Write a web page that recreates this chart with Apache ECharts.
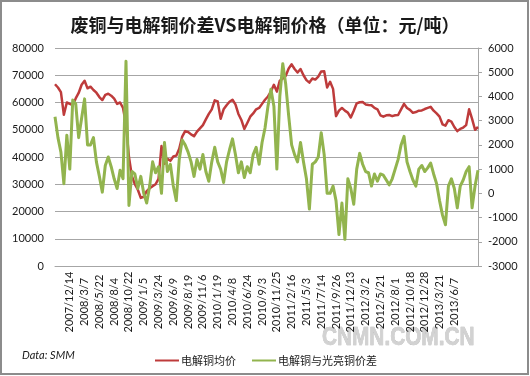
<!DOCTYPE html>
<html>
<head>
<meta charset="utf-8">
<script src="https://cdn.jsdelivr.net/npm/echarts@6/dist/echarts.min.js"></script>
<style>
html,body{margin:0;padding:0;background:#fff;}
#c{width:530px;height:376px;}
</style>
</head>
<body>
<div id="c"></div>
<script>
// Tick labels along the x axis (every 5th point, starting at point 5)
var xLabels = ['2007/12/14','2008/3/7','2008/5/22','2008/8/4','2008/10/22','2009/1/5','2009/3/24','2009/6/9','2009/8/19','2009/11/6','2010/1/19','2010/4/8','2010/6/24','2010/9/3','2010/11/25','2011/2/16','2011/5/3','2011/7/14','2011/9/26','2011/12/13','2012/3/2','2012/5/21','2012/8/1','2012/10/18','2012/12/28','2013/3/21','2013/6/7'];
var labelStart = 5;
var labelStep = 5;

var seriesNames = ['电解铜均价', '电解铜与光亮铜价差'];

// 电解铜均价 (left axis, 元/吨)
var copperPrice = [
66700,65500,63800,55500,60000,59500,59000,61500,63500,66500,
68000,65200,65800,64600,63600,62000,60900,62800,63200,62500,
61400,59500,60000,58000,52000,40000,33000,30000,28000,25000,
25400,27500,28500,29300,30000,32000,44000,37500,39300,38600,
40200,40500,43000,47500,49500,49200,48300,47600,49300,50500,
51700,53800,55800,57500,60800,60400,54000,57500,59000,60300,
61000,59300,55800,53600,50300,52500,54800,56000,57500,58000,
59500,61000,62200,64000,66500,64000,68000,68800,69800,72500,
74000,72300,71000,72300,70000,68200,67300,68800,68400,69500,
71400,71500,65500,67600,65000,55000,57000,58000,57000,56300,
54500,57000,59700,60100,60200,59300,59100,59000,58000,57500,
55300,54800,55300,55400,55000,55300,55400,57500,59500,58000,
57300,56200,56500,57000,57100,57600,58000,58400,57000,56000,
54800,52000,51500,53500,53000,51000,49500,50300,50800,51700,
57500,54000,50000,51000
];

// 电解铜与光亮铜价差 (right axis, 元/吨)
var priceSpread = [
3160,2300,1700,400,2400,1000,3850,3700,2300,3100,
3900,2000,2000,2300,1300,700,50,1150,1500,1100,
600,200,950,600,5450,-500,900,800,200,700,
0,-400,300,1300,850,1100,0,2100,900,1200,
300,-300,1400,2200,2000,1700,1300,700,1400,1000,
1600,900,500,1300,1900,1300,1000,450,1300,1800,
2250,1600,850,1300,650,1100,850,1600,1900,1200,
2100,2700,3600,4300,3600,1000,4000,5350,4500,3200,
2000,1600,1300,2100,1300,600,-650,1200,1300,1500,
2500,1600,0,0,300,-300,-1700,-400,-1900,600,
200,-450,1000,1650,1200,900,850,300,800,500,
800,750,550,350,600,1000,1400,2000,2350,1300,
900,550,300,1000,1150,900,1050,1250,800,400,
-300,-900,-1300,300,600,200,-600,300,550,900,
1100,-600,300,950
];

var axisFont = 'Lato, "Liberation Sans", sans-serif';
var cjkFont = '"Noto Sans CJK SC", sans-serif';

function toPairs(arr){ return arr.map(function(v,i){ return [i, v]; }); }
function plain(v){ return String(v); }

var chart = echarts.init(document.getElementById('c'), null, {renderer:'canvas'});
var option = {
  backgroundColor: '#ffffff',
  animation: false,
  title: {
    text: '废铜与电解铜价差VS电解铜价格（单位：元/吨）',
    left: 'center',
    top: 11,
    textStyle: {fontFamily: cjkFont, fontSize: 18, fontWeight: 'bold', color: '#1a1a1a'}
  },
  legend: {
    left: 150,
    top: 350,
    itemWidth: 24,
    itemHeight: 2,
    itemGap: 16,
    icon: 'rect',
    textStyle: {fontFamily: cjkFont, fontSize: 11, color: '#1a1a1a', padding: [0,0,0,-3]},
    data: seriesNames
  },
  grid: {left: 55, right: 52, top: 48, bottom: 110},
  xAxis: {
    type: 'value',
    min: 0,
    max: copperPrice.length - 1,
    interval: labelStep,
    splitLine: {show: false},
    axisTick: {show: false},
    axisLine: {show: true, lineStyle: {color: '#a6a6a6', width: 1}},
    axisLabel: {
      rotate: 90,
      margin: 36,
      align: 'center',
      verticalAlign: 'middle',
      fontFamily: axisFont,
      fontSize: 11,
      color: '#1a1a1a',
      showMinLabel: true,
      showMaxLabel: true,
      formatter: function(v){
        var k = (v - labelStart) / labelStep;
        if (k >= 0 && k < xLabels.length && Math.abs(k - Math.round(k)) < 1e-6) return xLabels[Math.round(k)];
        return '';
      }
    }
  },
  yAxis: [{
    type: 'value',
    min: 0, max: 80000, interval: 10000,
    axisLine: {show: false},
    axisTick: {show: false},
    splitLine: {show: true, lineStyle: {color: '#a6a6a6', width: 1}},
    axisLabel: {margin: 11, fontFamily: axisFont, fontSize: 11, color: '#1a1a1a', formatter: plain}
  },{
    type: 'value',
    min: -3000, max: 6000, interval: 1000,
    axisLine: {show: true, lineStyle: {color: '#a6a6a6', width: 1}},
    axisTick: {show: true, length: 4, lineStyle: {color: '#a6a6a6'}},
    splitLine: {show: false},
    axisLabel: {margin: 10, fontFamily: axisFont, fontSize: 11, color: '#1a1a1a', formatter: plain}
  }],
  series: [{
    name: seriesNames[0],
    type: 'line',
    yAxisIndex: 0,
    showSymbol: false,
    color: '#be3b3b',
    lineStyle: {width: 2.5, color: '#be3b3b', join: 'round'},
    data: toPairs(copperPrice)
  },{
    name: seriesNames[1],
    type: 'line',
    yAxisIndex: 1,
    showSymbol: false,
    color: '#92b44e',
    lineStyle: {width: 3, color: '#92b44e', join: 'round'},
    data: toPairs(priceSpread)
  }],
  graphic: [{
    type: 'rect',
    shape: {x: 1, y: 1, width: 527, height: 373},
    style: {fill: 'none', stroke: '#8c8c8c', lineWidth: 2},
    silent: true
  },{
    type: 'text',
    left: 22, top: 350,
    style: {text: 'Data: SMM', font: 'italic 11px ' + axisFont, fill: '#1a1a1a'}
  },{
    type: 'text',
    x: 322, y: 325,
    scaleX: 0.8,
    style: {text: 'CNMN.COM.CN', font: 'bold 26px "Liberation Sans", Arial, sans-serif', fill: '#d2d2d2', stroke: '#b4b4b4', lineWidth: 0.6}
  }]
};
chart.setOption(option);
</script>
</body>
</html>
